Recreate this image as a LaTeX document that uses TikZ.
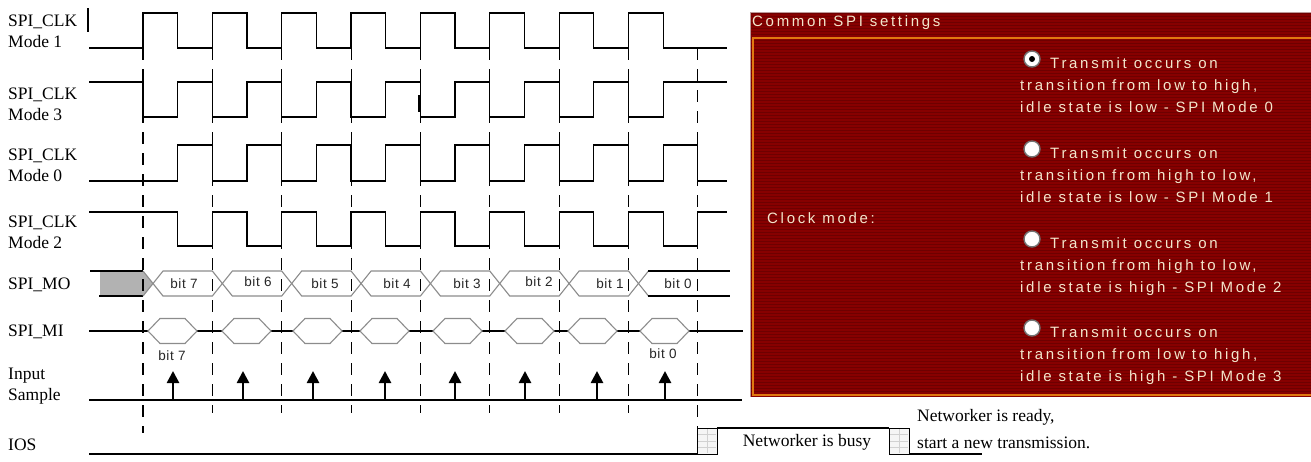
\documentclass[tikz,border=0pt]{standalone}
\usepackage{fontspec}
\setmainfont{Liberation Serif}
\newfontfamily\uifont{Liberation Sans}[LetterSpace=18]
\newfontfamily\bitfont{Liberation Sans}[LetterSpace=4]
\usetikzlibrary{arrows.meta}

\definecolor{panelred}{HTML}{870000}
\definecolor{stripered}{HTML}{6E0000}
\definecolor{frameorange}{HTML}{E07810}
\definecolor{uitext}{HTML}{F4E6CC}
\definecolor{hexgray}{HTML}{8C8C8C}

% clock grid: first edge and period
\def\clkx{143}
\def\clkp{69.35}
\def\clkh{34.675}

\begin{document}
\begin{tikzpicture}[x=1pt,y=-1pt,
	sig/.style={line width=1.2pt},
	dline/.style={line width=1.1pt, dash pattern=on 12pt off 9pt},
	hex/.style={draw=hexgray, line width=1.1pt},
	lbl/.style={font=\fontsize{17.5}{21}\selectfont, anchor=west, align=left, inner sep=0pt},
	bitlbl/.style={font=\bitfont\fontsize{13.5}{15}\selectfont, text=black!85, inner sep=0pt},
	ui/.style={font=\uifont\fontsize{15}{17}\selectfont, text=uitext, anchor=base west, inner sep=0pt},
	radio/.style={circle, draw=black!55, fill=white, line width=1.4pt, minimum size=16pt, inner sep=0pt},
	smp/.style={line width=2.6pt, -{Triangle[width=12pt,length=12pt]}},
	cell/.style={draw=black, line width=1pt, fill=black!4}]
	\useasboundingbox (0,0) rectangle (1311,461);

	% signal names
	\node[lbl] (L1) at (8,31) {SPI\_CLK\\Mode 1};
	\node[lbl] (L3) at (8,104) {SPI\_CLK\\Mode 3};
	\node[lbl] (L0) at (8,165) {SPI\_CLK\\Mode 0};
	\node[lbl] (L2) at (8,232) {SPI\_CLK\\Mode 2};
	\node[lbl] (MO) at (8,285) {SPI\_MO};
	\node[lbl] (MI) at (8,332) {SPI\_MI};
	\node[lbl] (IS) at (8,386) {Input\\Sample};
	\node[lbl] (IO) at (8,445) {IOS};
	\draw[sig] (88,8) -- (88,32);

	% clocks
	\draw[sig] (89,48) foreach \k in {0,...,7} { -- ({\clkx+\k*\clkp},48) -- ++(0,-35) -- ++(\clkh,0) -- ++(0,35) } -- (727,48);
	\draw[sig] (89,82) foreach \k in {0,...,7} { -- ({\clkx+\k*\clkp},82) -- ++(0,35) -- ++(\clkh,0) -- ++(0,-35) } -- (727,82);
	\draw[line width=2.6pt] (419.5,95) -- (419.5,112);
	\draw[sig] (89,181) foreach \k in {0,...,7} { -- ({\clkx+\clkh+\k*\clkp},181) -- ++(0,-36) -- ++(\clkh,0) -- ++(0,36) } -- (727,181);
	\draw[sig] (89,212) foreach \k in {0,...,7} { -- ({\clkx+\clkh+\k*\clkp},212) -- ++(0,34) -- ++(\clkh,0) -- ++(0,-34) } -- (727,212);

	% SPI_MO
	\fill[black!30] (100,271) -- (143,271) -- (153,283.5) -- (143,296) -- (100,296) -- cycle;
	\draw[sig] (90,271) -- (143,271);
	\draw[sig] (99,296) -- (143,296);
	\draw[hex] (143,271) -- (153,283.5) -- (143,296);
	\foreach \k in {0,...,6}
		\draw[hex] ({\clkx+10+\k*\clkp},283.5) -- ({\clkx+20+\k*\clkp},271) -- ({\clkx+(\k+1)*\clkp},271)
			-- ({\clkx+10+(\k+1)*\clkp},283.5) -- ({\clkx+(\k+1)*\clkp},296) -- ({\clkx+20+\k*\clkp},296) -- cycle;
	\draw[hex] ({\clkx+20+7*\clkp},271) -- ({\clkx+10+7*\clkp},283.5) -- ({\clkx+20+7*\clkp},296);
	\draw[sig] ({\clkx+20+7*\clkp},271) -- (730,271);
	\draw[sig] ({\clkx+20+7*\clkp},296) -- (730,296);
	\foreach \x/\y/\b [count=\i] in {184/284/7,258/282/6,325/284/5,397/284/4,467/284/3,539/282/2,610/284/1,678/284/0}
		\node[bitlbl] (B\i) at (\x,\y) {bit \b};

	% SPI_MI
	\draw[sig] (89,331) -- (743,331);
	\foreach \s in {148,222,293,360,433,505,568,640}
		\draw[hex, fill=white] (\s,331) -- ++(12,-12.5) -- ++(25,0) -- ++(12,12.5) -- ++(-12,12.5) -- ++(-25,0) -- cycle;
	\node[bitlbl] (M7) at (172,356) {bit 7};
	\node[bitlbl] (M0) at (663,354) {bit 0};

	% edge markers
	\foreach \k in {1,...,7}
		\draw[dline] ({\clkx+\k*\clkp},48) -- ({\clkx+\k*\clkp},413);
	\draw[dline] (\clkx,48) -- (\clkx,433);
	\draw[dline] ({\clkx+8*\clkp},48) -- ({\clkx+8*\clkp},428);

	% input sample
	\draw[sig] (89,400) -- (742,400);
	\foreach \x [count=\i] in {173,243,313,385,455,525,597,665} {
		\coordinate (s\i) at (\x,400);
		\coordinate (t\i) at (\x,371);
		\draw[smp] (s\i) -- (t\i);
	}

	% IOS
	\draw[sig] (89,454) -- (697,454);
	\draw[sig] (717,428) -- (889,428);
	\draw[sig] (909,454) -- (982,454);
	\foreach \bx in {697,889} {
		\draw[cell] (\bx,428) rectangle (\bx+20,454);
		\draw[black!18, line width=0.6pt] (\bx+10,429) -- (\bx+10,453);
		\foreach \gy in {434.5,441,447.5}
			\draw[black!18, line width=0.6pt] (\bx+1,\gy) -- (\bx+19,\gy);
	}
	\node[lbl, anchor=center] (busy) at (807,442) {Networker is busy};
	\node[lbl, anchor=base west] (rdy) at (917,421) {Networker is ready,};
	\node[lbl, anchor=base west] (new) at (917,448) {start a new transmission.};

	% settings panel
	\fill[panelred] (750,12) rectangle (1311,397);
	\foreach \y in {13.5,16.5,...,396}
		\draw[stripered, line width=1pt] (750,\y) -- (1311,\y);
	\draw[black!35!panelred!40!white, line width=1pt] (750.5,397) -- (750.5,12.5) -- (1311,12.5);
	\draw[frameorange, line width=1.5pt] (753,38) rectangle (1314,395);
	\node[ui] (T) at (752,26) {Common SPI settings};
	\node[ui] (CM) at (767,223) {Clock mode:};
	\foreach \c/\t/\u [count=\i] in {63/{transition from low to high,}/{idle state is low - SPI Mode 0},
			153/{transition from high to low,}/{idle state is low - SPI Mode 1},
			243/{transition from high to low,}/{idle state is high - SPI Mode 2},
			332/{transition from low to high,}/{idle state is high - SPI Mode 3}} {
		\node[radio] (R\i) at (1032,\c-4) {};
		\node[ui] (O\i a) at (1050,\c+5) {Transmit occurs on};
		\node[ui] (O\i b) at (1020,\c+27) {\t};
		\node[ui] (O\i c) at (1020,\c+49) {\u};
	}
	\fill (R1) circle (3pt);
\end{tikzpicture}
\end{document}
